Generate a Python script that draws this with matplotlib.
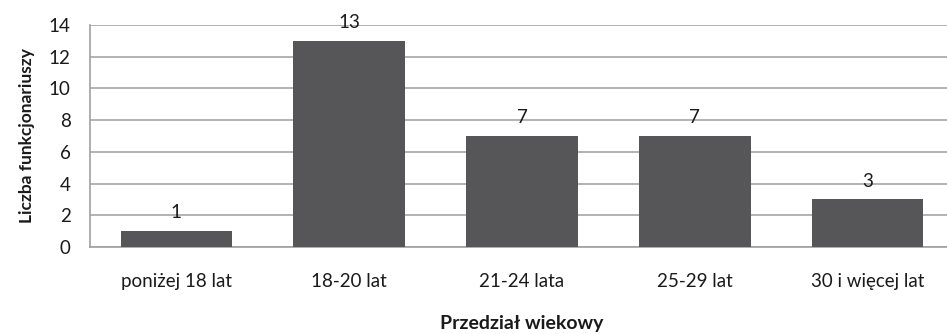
import matplotlib.pyplot as plt
import numpy as np

# Dane: liczba funkcjonariuszy w przedziałach wiekowych
przedzialy = ['poniżej 18 lat', '18-20 lat', '21-24 lata', '25-29 lat', '30 i więcej lat']
liczba = [1, 13, 7, 7, 3]

plt.rcParams['font.family'] = ['Lato', 'DejaVu Sans']

fig = plt.figure(figsize=(9.47, 3.34), dpi=100)
ax = fig.add_axes([90 / 947, 1 - 247 / 334, 864 / 947, 222 / 334])

x = np.arange(len(przedzialy))
slupki = ax.bar(x, liczba, width=0.645, color='#565658', zorder=3)

# Etykiety wartości nad słupkami
for xi, v in zip(x, liczba):
    ax.annotate(str(v), (xi, v), xytext=(0, 7), textcoords='offset points',
                ha='center', va='bottom', fontsize=13.5, color='#1a1a1a')

ax.set_xlim(-0.5, len(przedzialy) - 0.5)
ax.set_ylim(0, 14)
ax.set_yticks(range(0, 15, 2))
ax.set_xticks(x)
ax.set_xticklabels(przedzialy)
ax.tick_params(axis='both', length=0, labelsize=13.5, colors='#1a1a1a')
ax.tick_params(axis='x', pad=19)
ax.tick_params(axis='y', pad=14)

ax.grid(axis='y', color='#a5a5a5', linewidth=1.2, zorder=0)
for s in ['top', 'right']:
    ax.spines[s].set_visible(False)
for s in ['left', 'bottom']:
    ax.spines[s].set_color('#a0a0a0')
    ax.spines[s].set_linewidth(1.2)

ax.set_xlabel('Przedział wiekowy', fontsize=14, fontweight='bold', labelpad=18, color='#1a1a1a')
ax.set_ylabel('Liczba funkcjonariuszy', fontsize=12.5, fontweight='bold', labelpad=10, color='#1a1a1a')

fig.savefig('out.png', dpi=100)
